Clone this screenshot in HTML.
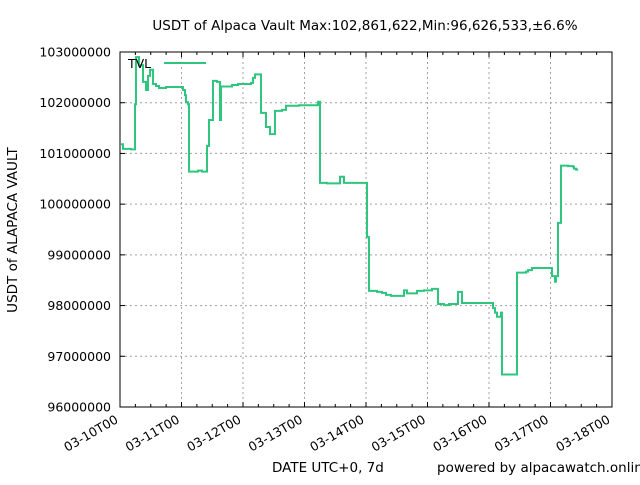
<!DOCTYPE html>
<html><head><meta charset="utf-8"><style>
body{margin:0;background:#fff;font-family:"Liberation Sans","DejaVu Sans",sans-serif;}
svg text{font-family:"DejaVu Sans","Liberation Sans",sans-serif;font-size:12.5px;fill:#000;}
</style></head><body>
<svg id="c" width="640" height="480" xmlns="http://www.w3.org/2000/svg"></svg>
<script>
const xTickLabels=["03-10T00","03-11T00","03-12T00","03-13T00","03-14T00","03-15T00","03-16T00","03-17T00","03-18T00"];
const yTicks=[96000000,97000000,98000000,99000000,100000000,101000000,102000000,103000000];
const times=[0.016,0.049,0.179,0.244,0.260,0.309,0.374,0.423,0.455,0.488,0.537,0.585,0.634,0.748,1.024,1.057,1.073,1.106,1.122,1.268,1.333,1.415,1.447,1.512,1.577,1.626,1.642,1.821,1.919,2.130,2.163,2.195,2.293,2.374,2.439,2.520,2.634,2.699,2.911,3.220,3.252,3.366,3.577,3.642,4.016,4.049,4.179,4.260,4.325,4.407,4.618,4.667,4.829,4.943,5.073,5.171,5.268,5.350,5.496,5.561,6.065,6.098,6.130,6.195,6.211,6.455,6.602,6.634,6.699,7.024,7.073,7.089,7.122,7.171,7.285,7.366,7.382,7.415];
const values=[101.18,101.09,101.08,101.97,102.9,102.74,102.41,102.25,102.53,102.65,102.37,102.33,102.29,102.31,102.25,102.15,102.01,101.97,100.64,100.66,100.64,101.15,101.66,102.43,102.41,101.66,102.32,102.35,102.37,102.39,102.49,102.56,101.8,101.52,101.38,101.84,101.86,101.94,101.95,102.02,100.42,100.41,100.54,100.42,99.35,98.29,98.27,98.25,98.21,98.19,98.3,98.24,98.29,98.3,98.33,98.03,98.01,98.03,98.27,98.05,97.95,97.86,97.78,97.86,96.64,98.65,98.67,98.7,98.74,98.58,98.47,98.58,99.63,100.76,100.75,100.74,100.7,100.68];
const endDay=7.45;
const NS="http://www.w3.org/2000/svg",svg=document.getElementById('c');
const X0=120,X1=612,Y0=407,Y1=52;
const xs=d=>X0+d*(X1-X0)/8;
const ys=v=>Y0-(v-96000000)*(Y0-Y1)/7000000;
function mk(t,a,p){const e=document.createElementNS(NS,t);for(const k in a)e.setAttribute(k,a[k]);(p||svg).appendChild(e);return e;}
let e;
for(let q=1;q<32;q++){if(q%4===0)continue;const x=xs(q/4);
 mk('line',{x1:x,x2:x,y1:Y0,y2:Y0-3,stroke:'#000'});mk('line',{x1:x,x2:x,y1:Y1,y2:Y1+3,stroke:'#000'});}
xTickLabels.forEach((l,i)=>{const x=xs(i);
 if(i>0&&i<8){e=mk('line',{x1:x,x2:x,y1:Y1,y2:Y0,stroke:'#a0a0a0','stroke-dasharray':'2,3'});}
 mk('line',{x1:x,x2:x,y1:Y0,y2:Y0-5,stroke:'#000'});mk('line',{x1:x,x2:x,y1:Y1,y2:Y1+5,stroke:'#000'});
 e=mk('text',{x:x-1,y:Y0+15,'text-anchor':'end',transform:`rotate(-30 ${x-1} ${Y0+15})`});e.textContent=l;
 });
yTicks.forEach(v=>{const y=ys(v);
 if(v>96000000&&v<103000000){e=mk('line',{x1:X0,x2:X1,y1:y,y2:y,stroke:'#a0a0a0','stroke-dasharray':'2,3'});}
 mk('line',{x1:X0,x2:X0+5,y1:y,y2:y,stroke:'#000'});mk('line',{x1:X1,x2:X1-5,y1:y,y2:y,stroke:'#000'});
 e=mk('text',{x:X0-9,y:y+4.5,'text-anchor':'end'});e.textContent=String(v);
 });
e=mk('rect',{x:X0,y:Y1,width:X1-X0,height:Y0-Y1,fill:'none',stroke:'#000'});

let d='';
times.forEach((t,i)=>{const x=xs(t),y=ys(values[i]*1e6);
 if(i===0)d='M'+x+' '+y;else d+=' H'+x+' V'+y;});
d+=' H'+xs(endDay);
e=mk('path',{d:d,fill:'none',stroke:'#2ec67e','stroke-width':2});

e=mk('text',{x:128,y:68});e.textContent='TVL';
e=mk('line',{x1:164,x2:206,y1:63,y2:63,stroke:'#2ec67e','stroke-width':2});
e=mk('text',{x:365,y:30,'text-anchor':'middle',style:'font-size:13.5px'});e.textContent='USDT of Alpaca Vault Max:102,861,622,Min:96,626,533,±6.6%';

e=mk('text',{x:17,y:230,'text-anchor':'middle',style:'font-size:13.5px',transform:'rotate(-90 17 230)'});e.textContent='USDT of ALAPACA VAULT';

e=mk('text',{x:272,y:472,style:'font-size:13.5px'});e.textContent='DATE UTC+0, 7d';
e=mk('text',{x:437,y:472,style:'font-size:13.5px'});e.textContent='powered by alpacawatch.online';
</script>
</body></html>
